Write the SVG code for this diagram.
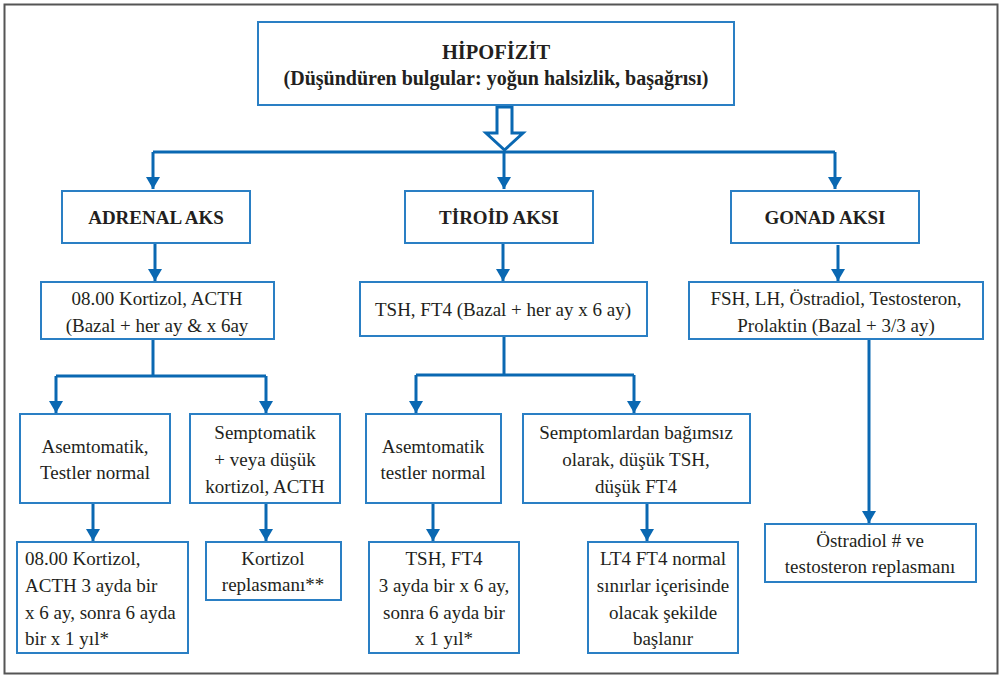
<svg xmlns="http://www.w3.org/2000/svg" width="1001" height="676" viewBox="0 0 1001 676">
<style>
.box{fill:#fff;stroke:#2a7fc4;stroke-width:2}
text{font-size:19px;fill:#231f20}
.t{text-anchor:middle}
.s{text-anchor:start}
.b{font-weight:bold}
.h1{font-size:20.5px;font-weight:bold}
.h2{font-size:20px;font-weight:bold}
.ln{fill:none;stroke:#0a68b2;stroke-width:3}
</style>
<defs>
<marker id="ah" markerWidth="12" markerHeight="14" refX="12" refY="7" orient="auto" markerUnits="userSpaceOnUse">
<path d="M0,0 L12,7 L0,14 Z" fill="#0a68b2"/>
</marker>
</defs>
<rect width="1001" height="676" fill="#fff"/>
<rect x="4.5" y="4.5" width="993" height="669" fill="none" stroke="#555" stroke-width="2"/>

<g id="connectors">
<path d="M497,107 L512,107 L512,133 L523,133 L504.5,150 L486,133 L497,133 Z" fill="#fff" stroke="#0a68b2" stroke-width="3" stroke-linejoin="miter"/>
<path class="ln" d="M153,152 L835,152"/>
<path class="ln" d="M153,152 L153,189" marker-end="url(#ah)"/>
<path class="ln" d="M504,152 L504,189" marker-end="url(#ah)"/>
<path class="ln" d="M835,152 L835,189" marker-end="url(#ah)"/>
<path class="ln" d="M155,244 L155,281" marker-end="url(#ah)"/>
<path class="ln" d="M503,244 L503,281" marker-end="url(#ah)"/>
<path class="ln" d="M838,245 L838,281" marker-end="url(#ah)"/>
<path class="ln" d="M153,340 L153,376"/>
<path class="ln" d="M56,376 L266,376"/>
<path class="ln" d="M56,376 L56,413" marker-end="url(#ah)"/>
<path class="ln" d="M266,376 L266,413" marker-end="url(#ah)"/>
<path class="ln" d="M504,337 L504,375"/>
<path class="ln" d="M416,375 L634,375"/>
<path class="ln" d="M416,375 L416,413" marker-end="url(#ah)"/>
<path class="ln" d="M634,375 L634,413" marker-end="url(#ah)"/>
<path class="ln" d="M93,504 L93,541" marker-end="url(#ah)"/>
<path class="ln" d="M266,504 L266,541" marker-end="url(#ah)"/>
<path class="ln" d="M433,504 L433,541" marker-end="url(#ah)"/>
<path class="ln" d="M647,504 L647,541" marker-end="url(#ah)"/>
<path class="ln" d="M869,340 L869,523" marker-end="url(#ah)"/>
</g>

<g id="hipofizit">
<rect class="box" x="258" y="22" width="476" height="83"/>
<text font-family="Liberation Serif" class="t h1" x="496" y="59">HİPOFİZİT</text>
<text font-family="Liberation Serif" class="t h2" x="496" y="85">(Düşündüren bulgular: yoğun halsizlik, başağrısı)</text>
</g>

<g id="adrenal">
<rect class="box" x="62" y="191" width="188" height="52"/>
<text font-family="Liberation Serif" class="t b" x="156" y="224">ADRENAL AKS</text>
</g>
<g id="tiroid">
<rect class="box" x="405" y="191" width="188" height="52"/>
<text font-family="Liberation Serif" class="t b" x="499" y="224">TİROİD AKSI</text>
</g>
<g id="gonad">
<rect class="box" x="731" y="191" width="188" height="52"/>
<text font-family="Liberation Serif" class="t b" x="825" y="224">GONAD AKSI</text>
</g>

<g id="adrenal-test">
<rect class="box" x="41" y="282" width="233" height="57"/>
<text font-family="Liberation Serif" class="t" x="157" y="305">08.00 Kortizol, ACTH</text>
<text font-family="Liberation Serif" class="t" x="157" y="332">(Bazal + her ay &amp; x 6ay</text>
</g>
<g id="tiroid-test">
<rect class="box" x="360" y="282" width="287" height="54"/>
<text font-family="Liberation Serif" class="t" x="503" y="316">TSH, FT4 (Bazal + her ay x 6 ay)</text>
</g>
<g id="gonad-test">
<rect class="box" x="689" y="282" width="294" height="57"/>
<text font-family="Liberation Serif" class="t" x="836" y="305">FSH, LH, Östradiol, Testosteron,</text>
<text font-family="Liberation Serif" class="t" x="836" y="332">Prolaktin (Bazal + 3/3 ay)</text>
</g>

<g id="adrenal-asemp">
<rect class="box" x="20" y="414" width="150" height="89"/>
<text font-family="Liberation Serif" class="t" x="95" y="453">Asemtomatik,</text>
<text font-family="Liberation Serif" class="t" x="95" y="479">Testler normal</text>
</g>
<g id="adrenal-semp">
<rect class="box" x="190" y="414" width="150" height="89"/>
<text font-family="Liberation Serif" class="t" x="265" y="439">Semptomatik</text>
<text font-family="Liberation Serif" class="t" x="265" y="466">+ veya düşük</text>
<text font-family="Liberation Serif" class="t" x="265" y="493">kortizol, ACTH</text>
</g>
<g id="tiroid-asemp">
<rect class="box" x="366" y="414" width="135" height="89"/>
<text font-family="Liberation Serif" class="t" x="433" y="453">Asemtomatik</text>
<text font-family="Liberation Serif" class="t" x="433" y="479">testler normal</text>
</g>
<g id="tiroid-semp">
<rect class="box" x="523" y="414" width="227" height="89"/>
<text font-family="Liberation Serif" class="t" x="636" y="439">Semptomlardan bağımsız</text>
<text font-family="Liberation Serif" class="t" x="636" y="466">olarak, düşük TSH,</text>
<text font-family="Liberation Serif" class="t" x="636" y="493">düşük FT4</text>
</g>

<g id="adrenal-takip">
<rect class="box" x="17" y="542" width="171" height="111"/>
<text font-family="Liberation Serif" class="s" x="25" y="565">08.00 Kortizol,</text>
<text font-family="Liberation Serif" class="s" x="25" y="592">ACTH 3 ayda bir</text>
<text font-family="Liberation Serif" class="s" x="25" y="619">x 6 ay, sonra 6 ayda</text>
<text font-family="Liberation Serif" class="s" x="25" y="645">bir x 1 yıl*</text>
</g>
<g id="kortizol-repl">
<rect class="box" x="206" y="542" width="135" height="58"/>
<text font-family="Liberation Serif" class="t" x="273" y="565">Kortizol</text>
<text font-family="Liberation Serif" class="t" x="273" y="591">replasmanı**</text>
</g>
<g id="tiroid-takip">
<rect class="box" x="369" y="542" width="150" height="111"/>
<text font-family="Liberation Serif" class="t" x="444" y="565">TSH, FT4</text>
<text font-family="Liberation Serif" class="t" x="444" y="592">3 ayda bir x 6 ay,</text>
<text font-family="Liberation Serif" class="t" x="444" y="619">sonra 6 ayda bir</text>
<text font-family="Liberation Serif" class="t" x="444" y="645">x 1 yıl*</text>
</g>
<g id="lt4">
<rect class="box" x="588" y="542" width="150" height="111"/>
<text font-family="Liberation Serif" class="t" x="663" y="565">LT4 FT4 normal</text>
<text font-family="Liberation Serif" class="t" x="663" y="592">sınırlar içerisinde</text>
<text font-family="Liberation Serif" class="t" x="663" y="619">olacak şekilde</text>
<text font-family="Liberation Serif" class="t" x="663" y="645">başlanır</text>
</g>
<g id="ostradiol">
<rect class="box" x="765" y="524" width="211" height="58"/>
<text font-family="Liberation Serif" class="t" x="870" y="547">Östradiol # ve</text>
<text font-family="Liberation Serif" class="t" x="870" y="573">testosteron replasmanı</text>
</g>
</svg>
